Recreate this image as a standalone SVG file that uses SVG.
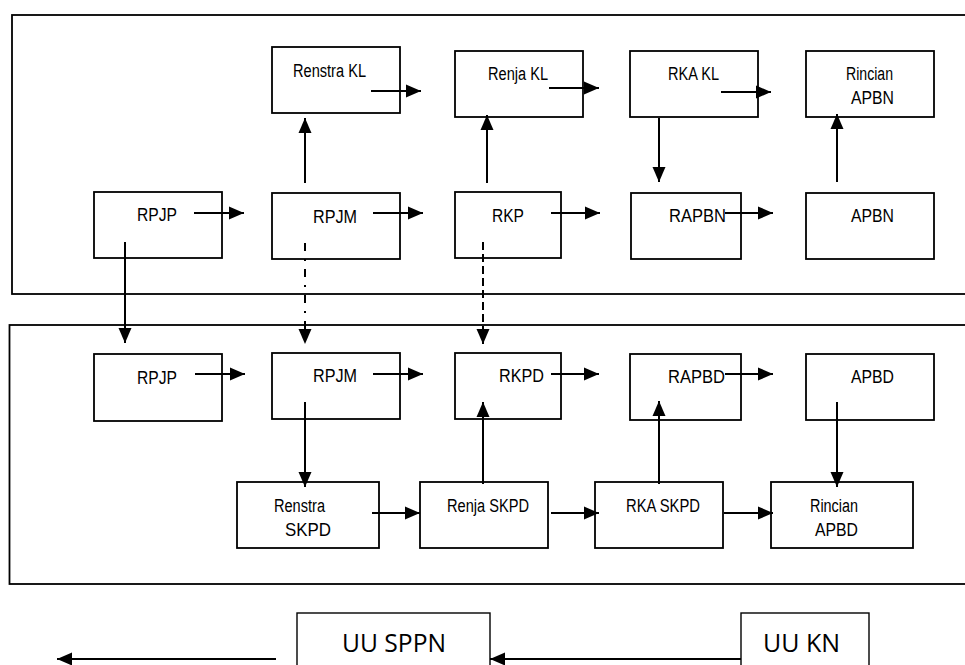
<svg xmlns="http://www.w3.org/2000/svg" width="965" height="665" viewBox="0 0 965 665">
<defs>
<style>
.frame{fill:none;stroke:#000;stroke-width:1.8}
.box{fill:#fff;stroke:#000;stroke-width:1.8}
.box2{fill:#fff;stroke:#000;stroke-width:1.4}
.t{font-family:"Liberation Sans",Arial,sans-serif;font-size:18px;fill:#000}
.u{font-family:"Open Sans","Liberation Sans",sans-serif;font-size:25px;fill:#000}
.c{fill:none;stroke:#000;stroke-width:2}
.dd{stroke-dasharray:8 8 2 8}
.ds{stroke-dasharray:8 4}
</style>
<marker id="ah" markerUnits="userSpaceOnUse" markerWidth="15" markerHeight="14" refX="15" refY="7" orient="auto" viewBox="0 0 15 14">
<path d="M0,0.5 L15,7 L0,13.5 z" fill="#000"/>
</marker>
</defs>
<rect width="965" height="665" fill="#fff"/>
<g id="frames">
<rect class="frame" x="12" y="15" width="970" height="279"/>
<rect class="frame" x="9.5" y="325" width="972" height="259"/>
</g>
<g id="n-renstra-kl"><rect class="box" x="272" y="47" width="128" height="66"/><text class="t" x="293" y="77" textLength="73" lengthAdjust="spacingAndGlyphs">Renstra KL</text></g>
<g id="n-renja-kl"><rect class="box" x="455" y="51" width="128" height="66"/><text class="t" x="488" y="80" textLength="60" lengthAdjust="spacingAndGlyphs">Renja KL</text></g>
<g id="n-rka-kl"><rect class="box" x="630" y="51" width="128" height="66"/><text class="t" x="668" y="80" textLength="51" lengthAdjust="spacingAndGlyphs">RKA KL</text></g>
<g id="n-rincian-apbn"><rect class="box" x="806" y="51" width="128" height="66"/><text class="t" x="846" y="80" textLength="47" lengthAdjust="spacingAndGlyphs">Rincian</text><text class="t" x="851" y="104" textLength="43" lengthAdjust="spacingAndGlyphs">APBN</text></g>
<g id="n-rpjp-n"><rect class="box" x="94" y="192" width="128" height="66"/><text class="t" x="137" y="221" textLength="40" lengthAdjust="spacingAndGlyphs">RPJP</text></g>
<g id="n-rpjm-n"><rect class="box" x="272" y="193" width="128" height="66"/><text class="t" x="313" y="223" textLength="44" lengthAdjust="spacingAndGlyphs">RPJM</text></g>
<g id="n-rkp"><rect class="box" x="455" y="192" width="106" height="66"/><text class="t" x="492" y="222" textLength="32" lengthAdjust="spacingAndGlyphs">RKP</text></g>
<g id="n-rapbn"><rect class="box" x="631" y="193" width="110" height="66"/><text class="t" x="669" y="222" textLength="57" lengthAdjust="spacingAndGlyphs">RAPBN</text></g>
<g id="n-apbn"><rect class="box" x="806" y="193" width="128" height="66"/><text class="t" x="851" y="222" textLength="43" lengthAdjust="spacingAndGlyphs">APBN</text></g>
<g id="n-rpjp-d"><rect class="box" x="94" y="354" width="128" height="67"/><text class="t" x="137" y="384" textLength="40" lengthAdjust="spacingAndGlyphs">RPJP</text></g>
<g id="n-rpjm-d"><rect class="box" x="272" y="353" width="128" height="66"/><text class="t" x="313" y="382" textLength="44" lengthAdjust="spacingAndGlyphs">RPJM</text></g>
<g id="n-rkpd"><rect class="box" x="455" y="353" width="106" height="66"/><text class="t" x="499" y="382" textLength="45" lengthAdjust="spacingAndGlyphs">RKPD</text></g>
<g id="n-rapbd"><rect class="box" x="630" y="354" width="111" height="66"/><text class="t" x="668" y="383" textLength="57" lengthAdjust="spacingAndGlyphs">RAPBD</text></g>
<g id="n-apbd"><rect class="box" x="806" y="354" width="128" height="66"/><text class="t" x="851" y="383" textLength="43" lengthAdjust="spacingAndGlyphs">APBD</text></g>
<g id="n-renstra-skpd"><rect class="box" x="237" y="482" width="142" height="66"/><text class="t" x="274" y="512" textLength="51" lengthAdjust="spacingAndGlyphs">Renstra</text><text class="t" x="285" y="536" textLength="46" lengthAdjust="spacingAndGlyphs">SKPD</text></g>
<g id="n-renja-skpd"><rect class="box" x="420" y="482" width="128" height="66"/><text class="t" x="447" y="512" textLength="82" lengthAdjust="spacingAndGlyphs">Renja SKPD</text></g>
<g id="n-rka-skpd"><rect class="box" x="595" y="482" width="128" height="66"/><text class="t" x="626" y="512" textLength="74" lengthAdjust="spacingAndGlyphs">RKA SKPD</text></g>
<g id="n-rincian-apbd"><rect class="box" x="771" y="482" width="142" height="66"/><text class="t" x="810" y="512" textLength="48" lengthAdjust="spacingAndGlyphs">Rincian</text><text class="t" x="815" y="536" textLength="43" lengthAdjust="spacingAndGlyphs">APBD</text></g>
<g id="n-uu-sppn"><rect class="box2" x="297" y="613" width="193" height="80"/><text class="u" x="342" y="652" textLength="104" lengthAdjust="spacingAndGlyphs">UU SPPN</text></g>
<g id="n-uu-kn"><rect class="box2" x="741" y="613" width="128" height="80"/><text class="u" x="763" y="652" textLength="77" lengthAdjust="spacingAndGlyphs">UU KN</text></g>
<g id="connectors">
<line class="c" x1="371" y1="91" x2="421" y2="91" marker-end="url(#ah)"/>
<line class="c" x1="549" y1="88" x2="599" y2="88" marker-end="url(#ah)"/>
<line class="c" x1="721" y1="92" x2="771" y2="92" marker-end="url(#ah)"/>
<line class="c" x1="194" y1="213" x2="244" y2="213" marker-end="url(#ah)"/>
<line class="c" x1="373" y1="213" x2="423" y2="213" marker-end="url(#ah)"/>
<line class="c" x1="551" y1="213" x2="600" y2="213" marker-end="url(#ah)"/>
<line class="c" x1="725" y1="213" x2="773" y2="213" marker-end="url(#ah)"/>
<line class="c" x1="305" y1="183" x2="305" y2="118" marker-end="url(#ah)"/>
<line class="c" x1="487" y1="183" x2="487" y2="115" marker-end="url(#ah)"/>
<line class="c" x1="659" y1="118" x2="659" y2="182" marker-end="url(#ah)"/>
<line class="c" x1="837" y1="182" x2="837" y2="114" marker-end="url(#ah)"/>
<line class="c" x1="125" y1="242" x2="125" y2="343" marker-end="url(#ah)"/>
<line class="c dd" x1="305" y1="243" x2="305" y2="344" marker-end="url(#ah)"/>
<line class="c ds" x1="483" y1="242" x2="483" y2="344" marker-end="url(#ah)"/>
<line class="c" x1="195" y1="374" x2="245" y2="374" marker-end="url(#ah)"/>
<line class="c" x1="373" y1="374" x2="423" y2="374" marker-end="url(#ah)"/>
<line class="c" x1="551" y1="374" x2="599" y2="374" marker-end="url(#ah)"/>
<line class="c" x1="725" y1="374" x2="773" y2="374" marker-end="url(#ah)"/>
<line class="c" x1="305" y1="402" x2="305" y2="487" marker-end="url(#ah)"/>
<line class="c" x1="483" y1="484" x2="483" y2="402" marker-end="url(#ah)"/>
<line class="c" x1="659" y1="484" x2="659" y2="401" marker-end="url(#ah)"/>
<line class="c" x1="837" y1="402" x2="837" y2="487" marker-end="url(#ah)"/>
<line class="c" x1="372" y1="513" x2="420" y2="513" marker-end="url(#ah)"/>
<line class="c" x1="551" y1="513" x2="599" y2="513" marker-end="url(#ah)"/>
<line class="c" x1="724" y1="513" x2="773" y2="513" marker-end="url(#ah)"/>
<line class="c" x1="741" y1="659" x2="490" y2="659" marker-end="url(#ah)"/>
<line class="c" x1="276" y1="659" x2="57" y2="659" marker-end="url(#ah)"/>
</g>
</svg>
